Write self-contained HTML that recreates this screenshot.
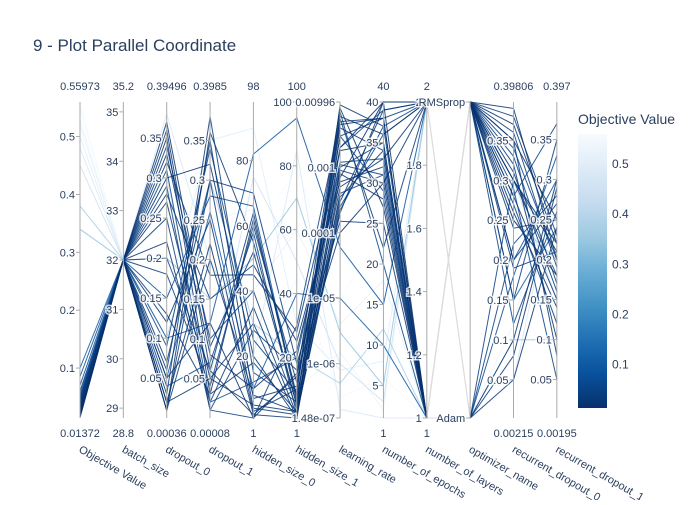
<!DOCTYPE html>
<html><head><meta charset="utf-8">
<style>
body{margin:0;background:#fff;}
svg text{font-family:"Liberation Sans",sans-serif;}
</style></head>
<body>
<svg id="chart" width="700" height="500" xmlns="http://www.w3.org/2000/svg">
<rect width="700" height="500" fill="#fff"/>
<text x="33" y="51" font-size="17" fill="#2a3f5f">9 - Plot Parallel Coordinate</text>
<g id="lines"></g>
<g id="axes"></g>
<g id="cbar"></g>
</svg>
<script>
const dimNames = ["Objective Value","batch_size","dropout_0","dropout_1","hidden_size_0","hidden_size_1","learning_rate","number_of_epochs","number_of_layers","optimizer_name","recurrent_dropout_0","recurrent_dropout_1"];
const dimMin = [0.01372,28.8,0.00036,0.00008,1,1,1.48e-7,1,1,0,0.00215,0.00195];
const dimMax = [0.55973,35.2,0.39496,0.3985,98,100,0.00996,40,2,1,0.39806,0.397];
const dimLog = [false,false,false,false,false,false,true,false,false,false,false,false];
const minLabels = ["0.01372","28.8","0.00036","0.00008","1","1","","1","1","","0.00215","0.00195"];
const maxLabels = ["0.55973","35.2","0.39496","0.3985","98","100","","40","2","","0.39806","0.397"];
const tickVals = [[0.1,0.2,0.3,0.4,0.5],[29,30,31,32,33,34,35],[0.05,0.1,0.15,0.2,0.25,0.3,0.35],[0.05,0.1,0.15,0.2,0.25,0.3,0.35],[20,40,60,80],[20,40,60,80,100],[1.48e-7,1e-6,1e-5,1e-4,1e-3,0.00996],[5,10,15,20,25,30,35,40],[1,1.2,1.4,1.6,1.8,2],[0,1],[0.05,0.1,0.15,0.2,0.25,0.3,0.35],[0.05,0.1,0.15,0.2,0.25,0.3,0.35]];
const tickText = [["0.1","0.2","0.3","0.4","0.5"],["29","30","31","32","33","34","35"],["0.05","0.1","0.15","0.2","0.25","0.3","0.35"],["0.05","0.1","0.15","0.2","0.25","0.3","0.35"],["20","40","60","80"],["20","40","60","80","100"],["1.48e-07","1e-06","1e-05","0.0001","0.001","0.00996"],["5","10","15","20","25","30","35","40"],["1","1.2","1.4","1.6","1.8","2"],["Adam","RMSprop"],["0.05","0.1","0.15","0.2","0.25","0.3","0.35"],["0.05","0.1","0.15","0.2","0.25","0.3","0.35"]];

const objective = [0.014,0.016,0.018,0.02,0.021,0.022,0.024,0.025,0.027,0.03,0.032,0.035,0.038,0.04,0.042,0.045,0.05,0.055,0.06,0.07,0.016,0.019,0.023,0.026,0.029,0.033,0.036,0.041,0.048,0.085,0.1,0.34,0.38,0.45,0.48,0.5,0.52,0.53,0.55,0.559];
const batchSize = [32,32,32,32,32,32,32,32,32,32,32,32,32,32,32,32,32,32,32,32,32,32,32,32,32,32,32,32,32,32,32,32,32,32,32,32,32,32,32,32];
const dropout0 = [0.02,0.35,0.3,0.05,0.01,0.33,0.22,0.12,0.07,0.36,0.28,0.03,0.18,0.01,0.25,0.34,0.09,0.04,0.31,0.15,0.02,0.27,0.37,0.06,0.13,0.32,0.2,0.01,0.29,0.1,0.05,0.2,0.1,0.3,0.38,0.15,0.05,0.25,0.33,0.12];
const dropout1 = [0.05,0.03,0.32,0.12,0.36,0.08,0.02,0.25,0.3,0.06,0.15,0.38,0.04,0.2,0.01,0.1,0.34,0.07,0.02,0.28,0.22,0.05,0.09,0.35,0.03,0.18,0.06,0.3,0.01,0.12,0.26,0.15,0.3,0.05,0.2,0.35,0.1,0.25,0.08,0.38];
const hiddenSize0 = [5,62,20,1,55,10,35,3,70,2,48,15,60,8,1,40,25,58,12,66,2,30,52,7,18,45,64,4,28,82,10,50,30,75,20,90,40,65,15,55];
const hiddenSize1 = [3,8,1,15,5,22,2,10,18,1,25,6,12,3,30,4,9,2,20,7,14,1,5,11,3,28,6,2,16,95,40,70,20,50,85,30,60,10,45,80];
const learningRate = [3e-3,5e-4,2e-3,1e-4,6e-3,8e-4,3e-4,4e-3,1.5e-4,9e-3,6e-4,2e-4,3e-3,1e-3,5e-3,4e-4,7e-3,2.5e-4,1.2e-3,2e-3,8e-3,7e-4,3.5e-4,4.5e-3,9e-4,1.8e-3,5.5e-3,2.2e-4,1.1e-3,6e-5,1e-5,3e-6,5e-7,1e-6,2e-7,8e-7,4e-6,1.5e-6,3e-7,1e-5];
const epochs = [38,33,40,30,36,28,39,34,25,37,32,40,29,35,38,31,20,36,33,39,27,40,34,38,30,35,22,37,31,15,10,5,12,3,1,8,18,2,6,24];
const layers = [1,2,1,1,2,1,2,1,1,2,1,2,1,1,2,1,1,2,1,2,1,2,1,1,2,1,2,1,1,2,1,2,1,2,1,2,1,2,1,1];
const optimizer = [1,1,1,0,1,1,1,1,0,1,1,1,1,0,1,1,1,1,1,0,1,1,0,1,1,1,1,1,0,1,1,0,1,1,0,1,1,0,1,1];
const recDropout0 = [0.3,0.35,0.25,0.1,0.39,0.28,0.2,0.32,0.05,0.36,0.15,0.3,0.27,0.22,0.38,0.33,0.12,0.29,0.34,0.18,0.26,0.37,0.08,0.31,0.24,0.35,0.19,0.28,0.3,0.2,0.15,0.1,0.25,0.3,0.05,0.2,0.35,0.12,0.28,0.22];
const recDropout1 = [0.22,0.25,0.18,0.3,0.2,0.15,0.27,0.1,0.24,0.19,0.35,0.21,0.12,0.28,0.23,0.17,0.26,0.05,0.2,0.33,0.14,0.22,0.29,0.16,0.25,0.08,0.21,0.37,0.18,0.3,0.24,0.1,0.2,0.15,0.3,0.25,0.12,0.35,0.05,0.28];
const series = [objective,batchSize,dropout0,dropout1,hiddenSize0,hiddenSize1,learningRate,epochs,layers,optimizer,recDropout0,recDropout1];

const NS="http://www.w3.org/2000/svg";
const X0=80, DX=43.35, YT=102, YB=418;
function axX(d){return X0+d*DX;}
function axY(d,v){
  let a=dimMin[d],b=dimMax[d],t;
  if(dimLog[d]) t=(Math.log10(v)-Math.log10(a))/(Math.log10(b)-Math.log10(a));
  else t=(v-a)/(b-a);
  return YB-t*(YB-YT);
}
const stops=[[0,[8,48,107]],[0.125,[8,81,156]],[0.25,[33,113,181]],[0.375,[66,146,198]],[0.5,[107,174,214]],[0.625,[158,202,225]],[0.75,[198,219,239]],[0.875,[222,235,247]],[1,[247,251,255]]];
function color(v){
  let t=(v-dimMin[0])/(dimMax[0]-dimMin[0]);t=Math.max(0,Math.min(1,t));
  for(let i=1;i<stops.length;i++){ if(t<=stops[i][0]){const[a,ca]=stops[i-1],[b,cb]=stops[i];const f=(t-a)/(b-a);
    return "rgb("+ca.map((c,k)=>Math.round(c+(cb[k]-c)*f)).join(",")+")";}}
  return "rgb(247,251,255)";
}
function el(tag,attrs,parent){const e=document.createElementNS(NS,tag);for(const k in attrs)e.setAttribute(k,attrs[k]);parent.appendChild(e);return e;}

const lg=document.getElementById("lines");
const order=objective.map((v,i)=>i).sort((a,b)=>objective[b]-objective[a]);
// gray crossing segment between number_of_layers and optimizer_name
order.forEach(i=>{
  const s=el("line",{x1:axX(8),y1:axY(8,layers[i]),x2:axX(9),y2:axY(9,optimizer[i]),stroke:"#ddd","stroke-width":1},lg);
  
  
});
order.forEach(i=>{
  const a=series.slice(0,9).map((s,d)=>axX(d).toFixed(1)+","+axY(d,s[i]).toFixed(1)).join(" ");
  const p=el("polyline",{points:a,fill:"none",stroke:color(objective[i]),"stroke-width":1,"stroke-opacity":0.85},lg);
  
  
  const b=series.slice(9).map((s,k)=>axX(k+9).toFixed(1)+","+axY(k+9,s[i]).toFixed(1)).join(" ");
  const q=el("polyline",{points:b,fill:"none",stroke:color(objective[i]),"stroke-width":1,"stroke-opacity":0.85},lg);
  
  
});

const ag=document.getElementById("axes");
for(let d=0;d<dimNames.length;d++){
  const x=axX(d);
  const g=el("g",{},ag);
  
  
  el("line",{x1:x,y1:YT,x2:x,y2:YB,stroke:"#aaa","stroke-width":1},g);
  tickVals[d].forEach((v,k)=>{
    const y=axY(d,v);
    el("line",{x1:x-4,y1:y,x2:x,y2:y,stroke:"#aaa"},g);
    const t=el("text",{x:x-5,y:y+4,"font-size":11,"text-anchor":"end",fill:"#2a3f5f",stroke:"#fff","stroke-width":3,"paint-order":"stroke","stroke-opacity":0.8},g);
    t.textContent=tickText[d][k];
  });
  if(maxLabels[d]){const t=el("text",{x:x,y:90,"font-size":11,"text-anchor":"middle",fill:"#2a3f5f"},g);t.textContent=maxLabels[d];}
  if(minLabels[d]){const t=el("text",{x:x,y:437,"font-size":11,"text-anchor":"middle",fill:"#2a3f5f"},g);t.textContent=minLabels[d];}
  const lt=el("text",{x:x,y:452,"font-size":11,fill:"#2a3f5f",transform:"rotate(30 "+x+" 448)"},g);
  lt.textContent=dimNames[d];
}

const cg=document.getElementById("cbar");
const defs=el("defs",{},cg);
const grad=el("linearGradient",{id:"cg",x1:0,y1:1,x2:0,y2:0},defs);
stops.forEach(s=>el("stop",{offset:s[0],"stop-color":"rgb("+s[1].join(",")+")"},grad));
el("rect",{x:578,y:134,width:29,height:274,fill:"url(#cg)"},cg);
const ct=el("text",{x:578,y:124,"font-size":14,fill:"#2a3f5f"},cg);ct.textContent="Objective Value";
[0.1,0.2,0.3,0.4,0.5].forEach(v=>{
  const y=408-(v-dimMin[0])/(dimMax[0]-dimMin[0])*274;
  const t=el("text",{x:612,y:y+4,"font-size":12,fill:"#2a3f5f"},cg);t.textContent=String(v);
});
</script>
</body></html>
